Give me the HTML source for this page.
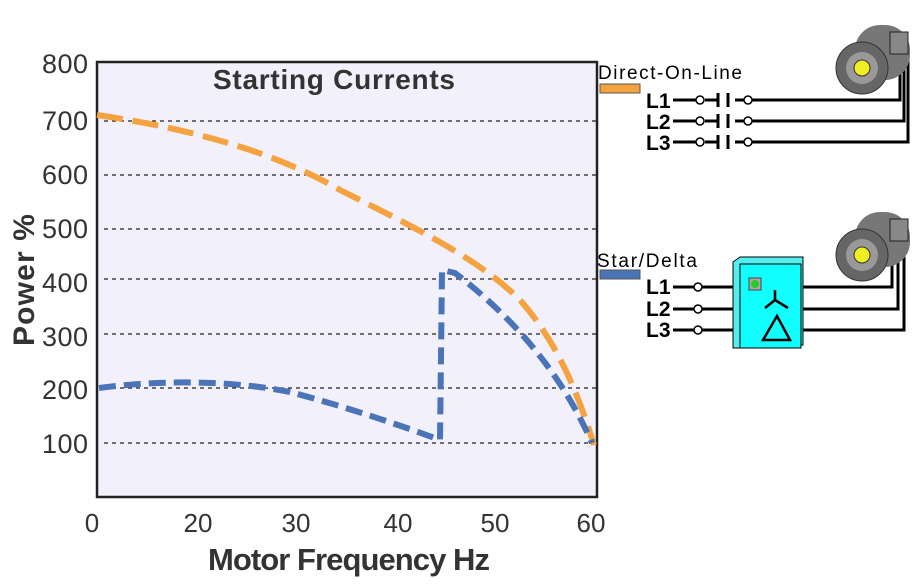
<!DOCTYPE html>
<html><head><style>
body{margin:0;width:920px;height:583px;background:#fff;overflow:hidden;font-family:"Liberation Sans",Arial,sans-serif}
</style></head><body>
<svg width="920" height="583" xmlns="http://www.w3.org/2000/svg" font-family="Liberation Sans, Arial, sans-serif">
<rect x="97" y="62" width="500" height="435" fill="#f1f0fb" stroke="#222" stroke-width="2.5"/>
<g stroke="#222" stroke-width="1.3" stroke-dasharray="4,4">
<line x1="104" y1="121" x2="596" y2="121"/><line x1="104" y1="175" x2="596" y2="175"/>
<line x1="104" y1="229" x2="596" y2="229"/><line x1="104" y1="279" x2="596" y2="279"/>
<line x1="104" y1="334" x2="596" y2="334"/><line x1="104" y1="388" x2="596" y2="388"/>
<line x1="104" y1="443" x2="596" y2="443"/></g>
<g font-size="27" fill="#333" text-anchor="end">
<text x="88" y="73" textLength="46">800</text><text x="88" y="130" textLength="46">700</text><text x="88" y="184" textLength="46">600</text>
<text x="88" y="238" textLength="46">500</text><text x="88" y="292" textLength="46">400</text><text x="88" y="346" textLength="46">300</text>
<text x="88" y="399" textLength="46">200</text><text x="88" y="453" textLength="46">100</text></g>
<g font-size="26" fill="#333" text-anchor="middle">
<text x="92" y="532">0</text><text x="198" y="532">20</text><text x="296" y="532">30</text>
<text x="398" y="532">40</text><text x="495" y="532">50</text><text x="591" y="532">60</text></g>
<text x="334" y="89" font-size="28" font-weight="bold" fill="#333" text-anchor="middle" textLength="242">Starting Currents</text>
<text x="349" y="570" font-size="31" font-weight="bold" fill="#333" text-anchor="middle" textLength="282">Motor Frequency Hz</text>
<text transform="translate(34,280) rotate(-90)" font-size="30" font-weight="bold" fill="#333" text-anchor="middle" textLength="132">Power %</text>
<path d="M97,115 C200,130 280,155 340,190 C420,230 480,260 520,300 C560,345 580,400 594,445" fill="none" stroke="#f4a340" stroke-width="6" stroke-dasharray="26,10"/>
<path d="M99,388 C160,380 230,380 290,392 C340,405 400,425 440,440 L442,270 L455,273 C510,315 560,370 592,443" fill="none" stroke="#4b73b8" stroke-width="6" stroke-dasharray="17,8"/>
<g font-size="19" fill="#000">
<text x="598" y="79" textLength="144">Direct-On-Line</text>
<text x="597" y="267" textLength="100">Star/Delta</text></g>
<rect x="600" y="84" width="40" height="9" fill="#f4a340" stroke="#555"/>
<rect x="600" y="270" width="40" height="9" fill="#4b73b8" stroke="#555"/>
<g font-size="21" font-weight="bold" fill="#000">
<text x="646" y="108">L1</text><text x="646" y="129">L2</text><text x="646" y="150">L3</text>
<text x="646" y="294">L1</text><text x="646" y="316">L2</text><text x="646" y="337">L3</text></g>
<g stroke="#000" stroke-width="3" fill="none">
<path d="M673,100 H697 M705,100 H718 M735,100 H900 V45"/>
<path d="M673,121 H697 M705,121 H718 M735,121 H904 V45"/>
<path d="M673,142 H697 M705,142 H718 M735,142 H908 V45"/>
<path d="M718,93 V107 M728,93 V107 M718,114 V128 M728,114 V128 M718,135 V149 M728,135 V149"/>
<path d="M673,287 H735 M800,287 H892 V235"/>
<path d="M673,309 H735 M800,309 H898 V235"/>
<path d="M673,330 H735 M800,330 H904 V235"/>
</g>
<g fill="#fff" stroke="#000" stroke-width="1.5">
<circle cx="700" cy="100" r="4"/><circle cx="700" cy="121" r="4"/><circle cx="700" cy="142" r="4"/>
<circle cx="748" cy="100" r="4"/><circle cx="748" cy="121" r="4"/><circle cx="748" cy="142" r="4"/>
<circle cx="698" cy="287" r="4"/><circle cx="698" cy="309" r="4"/><circle cx="698" cy="330" r="4"/></g>
<polygon points="733,262 740,257 803,257 803,345 740,348 733,348" fill="#5ee" stroke="#000"/>
<rect x="740" y="264" width="61" height="84" fill="#1ff" stroke="#000"/>
<rect x="749" y="278" width="12" height="12" fill="#aaa" stroke="#444"/><circle cx="755" cy="284" r="4" fill="#2c2"/>
<path d="M775,290 V300 L765,308 M775,300 L788,308 M763,340 L777,316 L790,340 Z" stroke="#000" stroke-width="2.5" fill="none"/>
<g>
<rect x="855" y="25" width="55" height="55" rx="25" fill="#777"/>
<circle cx="862" cy="68" r="26" fill="#666" stroke="#333"/><circle cx="862" cy="68" r="16" fill="#999"/>
<circle cx="862" cy="68" r="8" fill="#ee2" stroke="#333"/>
<rect x="890" y="32" width="18" height="22" fill="#888" stroke="#222"/>
<rect x="855" y="212" width="55" height="55" rx="25" fill="#777"/>
<circle cx="862" cy="255" r="26" fill="#666" stroke="#333"/><circle cx="862" cy="255" r="16" fill="#999"/>
<circle cx="862" cy="255" r="8" fill="#ee2" stroke="#333"/>
<rect x="890" y="219" width="18" height="22" fill="#888" stroke="#222"/>
</g>
</svg>
</body></html>
